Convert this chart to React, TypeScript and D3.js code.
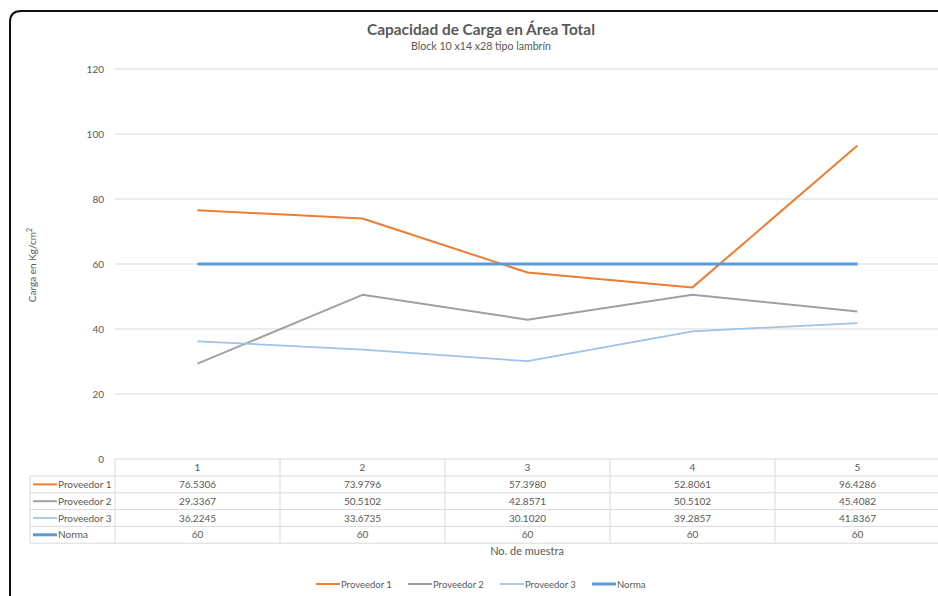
import React from "react";
import * as d3 from "d3";

const categories = ["1", "2", "3", "4", "5"];
const seriesNames = ["Proveedor 1", "Proveedor 2", "Proveedor 3", "Norma"];
const proveedor1 = [76.5306, 73.9796, 57.398, 52.8061, 96.4286];
const proveedor2 = [29.3367, 50.5102, 42.8571, 50.5102, 45.4082];
const proveedor3 = [36.2245, 33.6735, 30.102, 39.2857, 41.8367];
const norma = [60, 60, 60, 60, 60];
const tableLabels1 = ["76.5306", "73.9796", "57.3980", "52.8061", "96.4286"];
const tableLabels2 = ["29.3367", "50.5102", "42.8571", "50.5102", "45.4082"];
const tableLabels3 = ["36.2245", "33.6735", "30.1020", "39.2857", "41.8367"];
const tableLabels4 = ["60", "60", "60", "60", "60"];
const yTicks = [0, 20, 40, 60, 80, 100, 120];

const colors = ["#ED7D31", "#A0A0A0", "#9DC3E6", "#5B9BD5"];
const widths = [2, 2, 1.75, 3];
const FONT = "Lato, 'Open Sans', sans-serif";
const TXT = "#595959";

export default function App() {
  const W = 938, H = 596;
  const left = 115, right = 940;
  const x = d3.scaleBand<string>().domain(categories).range([left, right]);
  const y = d3.scaleLinear().domain([0, 120]).range([459, 69]);
  const series = [proveedor1, proveedor2, proveedor3, norma];
  const tableVals = [tableLabels1, tableLabels2, tableLabels3, tableLabels4];
  const line = d3
    .line<number>()
    .x((_, i) => (x(categories[i]) as number) + x.bandwidth() / 2)
    .y((d) => y(d));

  const rowTop = 459;
  const headerH = 17;
  const rowH = 16.8;
  const labelLeft = 30;
  const tableBottom = rowTop + headerH + rowH * 4;
  const gridColor = "#D9D9D9";

  const legendItems = [
    { x: 316, w: 68 },
    { x: 408, w: 68 },
    { x: 500, w: 68 },
    { x: 592, w: 50 },
  ];

  return (
    <svg
      width={W}
      height={H}
      style={{ position: "absolute", left: 0, top: 0, background: "#fff" }}
      fontFamily={FONT}
    >
      <rect width={W} height={H} fill="#fff" />
      <path
        d={`M10,${H + 5} L10,22 Q10,11 21,11 L${W + 5},11`}
        fill="none"
        stroke="#111"
        strokeWidth={2}
      />
      <text x={481} y={35} textAnchor="middle" fontSize={15.4} fontWeight="bold" fill={TXT}>
        Capacidad de Carga en Área Total
      </text>
      <text x={481} y={50} textAnchor="middle" fontSize={10.6} fill={TXT}>
        Block 10 x14 x28 tipo lambrín
      </text>

      {yTicks.map((t) => (
        <g key={t}>
          {t > 0 && (
            <line x1={left} x2={W} y1={y(t)} y2={y(t)} stroke={gridColor} strokeWidth={1} />
          )}
          <text x={104} y={y(t) + 3.5} textAnchor="end" fontSize={10} fill={TXT}>
            {t}
          </text>
        </g>
      ))}

      <text
        transform={`translate(36,${265}) rotate(-90)`}
        textAnchor="middle"
        fontSize={10}
        fill={TXT}
      >
        Carga en Kg/cm
        <tspan dy={-4} fontSize={7}>2</tspan>
      </text>

      {/* table */}
      <g stroke={gridColor} strokeWidth={1} fill="none">
        <line x1={left} x2={W} y1={rowTop} y2={rowTop} />
        {[0, 1, 2, 3, 4].map((i) => {
          const yy = rowTop + headerH + rowH * i;
          return <line key={i} x1={labelLeft} x2={W} y1={yy} y2={yy} />;
        })}
        <line x1={labelLeft} x2={labelLeft} y1={rowTop + headerH} y2={tableBottom} />
        {categories.map((c) => (
          <line key={c} x1={x(c)} x2={x(c)} y1={rowTop} y2={tableBottom} />
        ))}
      </g>
      {categories.map((c) => (
        <text
          key={c}
          x={(x(c) as number) + x.bandwidth() / 2}
          y={rowTop + 12}
          textAnchor="middle"
          fontSize={10}
          fill={TXT}
        >
          {c}
        </text>
      ))}
      {seriesNames.map((name, r) => {
        const cy = rowTop + headerH + rowH * r + rowH / 2;
        return (
          <g key={name}>
            <line x1={33} x2={57} y1={cy} y2={cy} stroke={colors[r]} strokeWidth={widths[r]} />
            <text x={58} y={cy + 3.5} fontSize={10} fill={TXT}>
              {name}
            </text>
            {tableVals[r].map((v, i) => (
              <text
                key={i}
                x={(x(categories[i]) as number) + x.bandwidth() / 2}
                y={cy + 3.5}
                textAnchor="middle"
                fontSize={10}
                fill={TXT}
              >
                {v}
              </text>
            ))}
          </g>
        );
      })}

      <text x={527} y={555} textAnchor="middle" fontSize={11} fill={TXT}>
        No.  de muestra
      </text>

      {series.map((s, i) => (
        <path
          key={i}
          d={line(s) as string}
          fill="none"
          stroke={colors[i]}
          strokeWidth={widths[i]}
          strokeLinejoin="round"
        />
      ))}

      {seriesNames.map((name, i) => (
        <g key={name}>
          <line
            x1={legendItems[i].x}
            x2={legendItems[i].x + 24}
            y1={584}
            y2={584}
            stroke={colors[i]}
            strokeWidth={widths[i]}
          />
          <text x={legendItems[i].x + 25} y={587.5} fontSize={9.5} fill={TXT}>
            {name}
          </text>
        </g>
      ))}
    </svg>
  );
}
